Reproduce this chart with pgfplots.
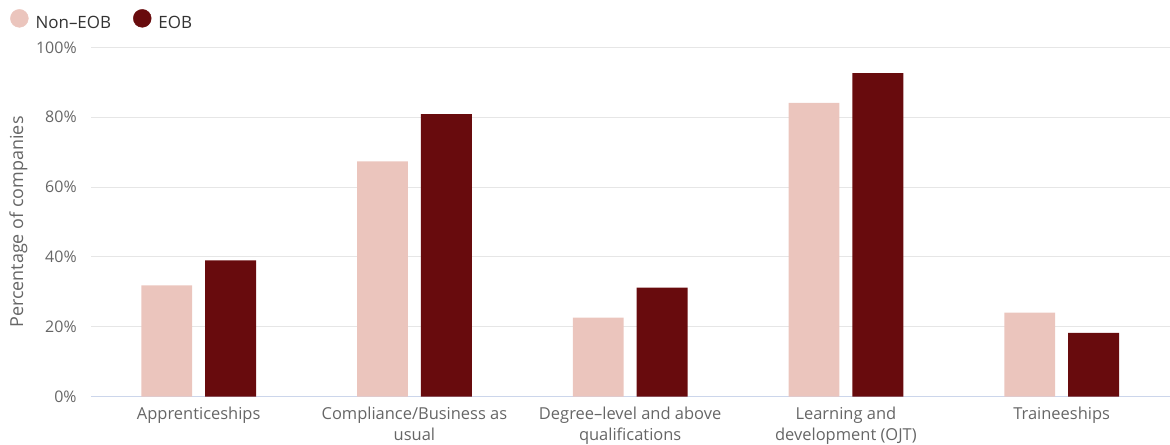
\documentclass[border=0pt]{standalone}
\usepackage{pgfplots}
\pgfplotsset{compat=1.18}
\usepackage{fontspec}
\setmainfont{Open Sans}

\definecolor{noneob}{HTML}{EBC5BD}
\definecolor{eob}{HTML}{680B0D}
\definecolor{gridgray}{HTML}{E6E6E6}
\definecolor{axisblue}{HTML}{CCD6EB}
\definecolor{labelgray}{HTML}{666666}
\definecolor{legendtext}{HTML}{333333}

\begin{document}
\begin{tikzpicture}
\begin{axis}[
  scale only axis, width=1081pt, height=350pt,
  xmin=-0.5, xmax=4.5, ymin=0, ymax=100,
  ybar, bar width=0.236,
  xtick={0,...,4},
  xticklabels={Apprenticeships,
               {Compliance/Business as\\usual},
               {Degree--level and above\\qualifications},
               {Learning and\\development (OJT)},
               Traineeships},
  ytick={0,20,...,100},
  yticklabels={0\%,20\%,40\%,60\%,80\%,100\%},
  major tick length=0pt,
  xtick style={draw=none}, ytick style={draw=none},
  axis x line*=bottom, axis y line*=left,
  x axis line style={draw=axisblue, line width=1pt, -},
  y axis line style={draw=none},
  ymajorgrids, grid style={draw=gridgray, line width=1pt},
  xticklabel style={font=\fontsize{16.5}{20.5}\selectfont, text=labelgray,
                    align=center, anchor=north, inner sep=0pt, yshift=-10.5pt},
  yticklabel style={font=\fontsize{16}{19}\selectfont, text=labelgray,
                    anchor=east, inner sep=0pt, xshift=-14pt},
  ylabel={Percentage of companies},
  ylabel style={font=\fontsize{18}{21}\selectfont, text=labelgray,
                at={(axis description cs:-0.0671,0.5)}, anchor=center},
  legend style={at={(axis description cs:-0.0749,1.0800)}, anchor=west,
                draw=none, fill=none, inner sep=0pt,
                font=\fontsize{17}{20}\selectfont, text=legendtext,
                legend columns=-1,
                nodes={inner sep=0pt},
                /tikz/every odd column/.append style={column sep=7pt},
                /tikz/every even column/.append style={column sep=22pt}},
]
% legend swatches: filled circles
\addlegendimage{legend image code/.code={\fill[noneob] (9pt,4.5pt) circle (9pt);}}
\addlegendentry{Non--EOB}
\addlegendimage{legend image code/.code={\fill[eob] (9pt,4.5pt) circle (9pt);}}
\addlegendentry{EOB}

% Non-EOB
\addplot[fill=noneob, draw=none, bar shift=-0.148, forget plot]
  coordinates {(0,31.9) (1,67.4) (2,22.6) (3,84.1) (4,24.1)};
% EOB
\addplot[fill=eob, draw=none, bar shift=0.148, forget plot]
  coordinates {(0,39.0) (1,80.9) (2,31.2) (3,92.6) (4,18.3)};
\end{axis}
\path[use as bounding box] (-91pt,-46.5pt) rectangle (1079pt,397.5pt);
\end{tikzpicture}
\end{document}
